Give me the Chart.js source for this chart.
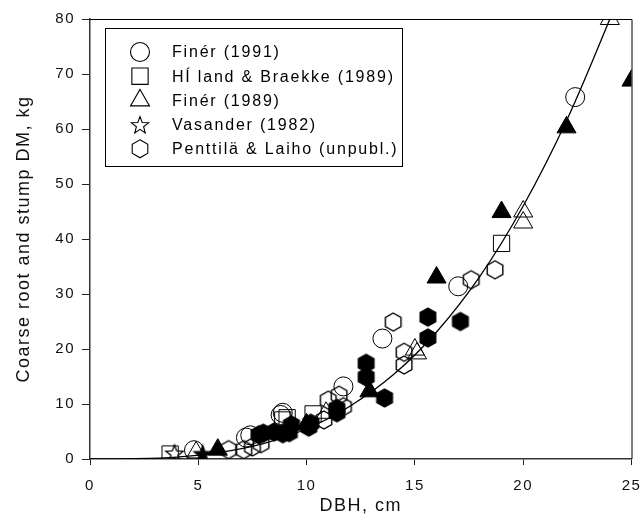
<!DOCTYPE html>
<html>
<head>
<meta charset="utf-8">
<script src="https://cdn.jsdelivr.net/npm/chart.js@4.4.0/dist/chart.umd.min.js"></script>
<style>
  body { margin: 0; background: #fff; }
  canvas { display: block; }
</style>
</head>
<body>
<canvas id="chart" width="644" height="530"></canvas>
<script>
// values (DBH cm, coarse root + stump DM kg)
var xTicks = [0, 5, 10, 15, 20, 25];
var yTicks = [0, 10, 20, 30, 40, 50, 60, 70, 80];

var finer91X = [4.8, 7.2, 7.4, 8.8, 8.9, 11.7, 13.5, 17.0, 22.4];
var finer91Y = [1.6, 3.9, 4.3, 8.0, 8.4, 13.2, 21.9, 31.4, 65.8];

var hlandX = [3.7, 8.9, 9.1, 10.3, 19.0];
var hlandY = [0.9, 7.1, 7.5, 8.2, 39.2];

var finer89X = [4.9, 10.9, 15.0, 15.1, 20.0, 20.0, 24.0];
var finer89Y = [1.2, 8.4, 19.9, 19.2, 45.0, 43.0, 80.0];
var finer89FillX = [5.9, 10.0, 12.9, 16.0, 19.0, 22.0, 25.0];
var finer89FillY = [1.7, 6.3, 12.3, 33.0, 44.9, 60.3, 68.8];

var vasanderX = [3.9];
var vasanderY = [1.1];
var vasanderFillX = [5.2];
var vasanderFillY = [1.0];

var penttilaX = [6.4, 7.1, 7.5, 7.9, 10.8, 11.0, 11.5, 11.7, 14.0, 14.5, 14.5, 17.6, 18.7];
var penttilaY = [1.7, 1.7, 2.2, 2.8, 7.1, 10.7, 11.6, 9.5, 24.9, 19.4, 17.1, 32.6, 34.4];
var penttilaFillX = [7.8, 8.0, 8.5, 8.9, 9.2, 9.3, 10.1, 10.2, 11.4, 11.4, 12.75, 12.75, 13.6, 15.6, 15.6, 17.1];
var penttilaFillY = [4.4, 4.7, 4.9, 4.6, 4.8, 6.2, 5.8, 6.5, 8.4, 9.2, 14.9, 17.4, 11.1, 22.0, 25.8, 25.0];

// fitted curve, read along its path
var curveX = [0, 2, 4, 6, 8, 10, 12, 14, 16, 18, 20, 22, 24, 24.5];
var curveY = [0, 0.05, 0.33, 1.2, 2.8, 5.5, 9.6, 15.3, 23.1, 33.2, 46.0, 61.5, 80.0, 85.0];

function pts(xs, ys) {
    return xs.map(function (x, i) { return { x: x, y: ys[i] }; });
}

// marker outlines as paths (used for the point images and the legend)
function hexPath(g, cx, cy, r) {
    g.beginPath();
    for (var k = 0; k < 6; k++) {
        var a = (-90 + k * 60) * Math.PI / 180;
        var px = cx + r * Math.cos(a), py = cy + r * Math.sin(a);
        if (k === 0) g.moveTo(px, py); else g.lineTo(px, py);
    }
    g.closePath();
}
function starPath(g, cx, cy, r) {
    g.beginPath();
    for (var k = 0; k < 10; k++) {
        var rr = (k % 2 === 0) ? r : r * 0.42;
        var a = (-90 + k * 36) * Math.PI / 180;
        var px = cx + rr * Math.cos(a), py = cy + 1 + rr * Math.sin(a);
        if (k === 0) g.moveTo(px, py); else g.lineTo(px, py);
    }
    g.closePath();
}
function makeImg(pathFn, filled, lw) {
    var c = document.createElement('canvas');
    c.width = 22; c.height = 22;
    var g = c.getContext('2d');
    pathFn(g, 11, 11, 9);
    if (filled) { g.fillStyle = '#000'; g.fill(); }
    g.strokeStyle = '#000'; g.lineWidth = lw; g.stroke();
    return c;
}
var hexOpen = makeImg(hexPath, false, 1.4), hexFill = makeImg(hexPath, true, 1.4);
var starOpen = makeImg(starPath, false, 1.3), starFill = makeImg(starPath, true, 1.3);

var NONE = 'rgba(0,0,0,0)';
var FONT = '"Liberation Sans", Arial, sans-serif';
var SPACING = '1.5px';

function markerSet(label, data, style, radius, filled) {
    return {
        label: label,
        data: data,
        pointStyle: style,
        pointRadius: radius,
        pointHoverRadius: radius,
        pointBorderWidth: 1,
        borderColor: '#000',
        backgroundColor: filled ? '#000' : NONE,
        showLine: false
    };
}

var legendItems = [
    { text: 'Finér (1991)', style: 'circle', r: 9.5 },
    { text: 'HÍ land & Braekke (1989)', style: 'rect', r: 11.5 },
    { text: 'Finér (1989)', style: 'triangle', r: 11 },
    { text: 'Vasander (1982)', style: 'star', r: 9 },
    { text: 'Penttilä & Laiho (unpubl.)', style: 'hex', r: 9 }
];

var spacingPlugin = {
    id: 'spacing',
    beforeUpdate: function (chart) { chart.ctx.letterSpacing = SPACING; },
    beforeDraw: function (chart) { chart.ctx.letterSpacing = SPACING; }
};

var framePlugin = {
    id: 'frame',
    afterDraw: function (chart) {
        var ctx = chart.ctx, a = chart.chartArea;
        ctx.save();
        ctx.strokeStyle = '#000';
        ctx.lineWidth = 1;
        ctx.beginPath();
        ctx.moveTo(a.left, a.top + 0.5);
        ctx.lineTo(a.right + 0.5, a.top + 0.5);
        ctx.lineTo(a.right + 0.5, a.bottom);
        ctx.stroke();

        // legend box
        var bx = 105.5, by = 28.5, bw = 297, bh = 138;
        ctx.fillStyle = '#fff';
        ctx.fillRect(bx, by, bw, bh);
        ctx.strokeRect(bx, by, bw, bh);
        ctx.letterSpacing = '1.8px';
        ctx.font = '16px ' + FONT;
        ctx.textBaseline = 'middle';
        ctx.textAlign = 'left';
        legendItems.forEach(function (it, i) {
            var y = 52 + i * 24.2;
            ctx.strokeStyle = '#000';
            ctx.fillStyle = '#fff';
            ctx.lineWidth = 1.1;
            if (it.style === 'star') {
                starPath(ctx, 140, y, it.r);
            } else if (it.style === 'hex') {
                hexPath(ctx, 140, y, it.r);
            } else if (it.style === 'circle') {
                ctx.beginPath();
                ctx.arc(140, y, it.r, 0, Math.PI * 2);
            } else if (it.style === 'rect') {
                var h = it.r * Math.SQRT1_2;
                ctx.beginPath();
                ctx.rect(140 - h, y - h, 2 * h, 2 * h);
            } else {
                ctx.beginPath();
                for (var k = 0; k < 3; k++) {
                    var ang = k * 2 * Math.PI / 3;
                    var px = 140 + Math.sin(ang) * it.r, py = y - Math.cos(ang) * it.r;
                    if (k === 0) ctx.moveTo(px, py); else ctx.lineTo(px, py);
                }
                ctx.closePath();
            }
            ctx.fill();
            ctx.stroke();
            ctx.fillStyle = '#000';
            ctx.fillText(it.text, 172, y + 1);
        });
        ctx.restore();
    }
};

var theChart = new Chart(document.getElementById('chart'), {
    type: 'scatter',
    data: {
        datasets: [
            {
                label: 'fit',
                data: pts(curveX, curveY),
                showLine: true,
                borderColor: '#000',
                borderWidth: 1.3,
                pointRadius: 0,
                cubicInterpolationMode: 'monotone',
                fill: false
            },
            markerSet('Penttilä filled', pts(penttilaFillX, penttilaFillY), hexFill, 9, true),
            markerSet('Finér 1989 filled', pts(finer89FillX, finer89FillY), 'triangle', 11, true),
            markerSet('Vasander filled', pts(vasanderFillX, vasanderFillY), starFill, 9, true),
            markerSet('Finér (1991)', pts(finer91X, finer91Y), 'circle', 9.5, false),
            markerSet('HÍ land & Braekke (1989)', pts(hlandX, hlandY), 'rect', 11.5, false),
            markerSet('Finér (1989)', pts(finer89X, finer89Y), 'triangle', 11, false),
            markerSet('Vasander (1982)', pts(vasanderX, vasanderY), starOpen, 9, false),
            markerSet('Penttilä & Laiho (unpubl.)', pts(penttilaX, penttilaY), hexOpen, 9, false)
        ]
    },
    options: {
        responsive: false,
        animation: false,
        devicePixelRatio: 1,
        layout: { padding: { top: 19, right: 11, left: 0, bottom: 0 } },
        plugins: {
            legend: { display: false },
            tooltip: { enabled: false }
        },
        scales: {
            x: {
                type: 'linear',
                min: 0, max: 25,
                afterBuildTicks: function (s) { s.ticks = xTicks.map(function (v) { return { value: v }; }); },
                afterFit: function (s) { s.height = 71; s.paddingLeft = 0; s.paddingRight = 0; },
                grid: { drawOnChartArea: false, drawTicks: true, tickLength: 6, color: '#222' },
                border: { color: '#333', width: 1.5 },
                ticks: { color: '#111', padding: 12, font: { family: FONT, size: 15 } },
                title: { display: true, text: 'DBH, cm', color: '#111', padding: { top: 0, bottom: 13 }, font: { family: FONT, size: 18 } }
            },
            y: {
                type: 'linear',
                min: 0, max: 80,
                afterBuildTicks: function (s) { s.ticks = yTicks.map(function (v) { return { value: v }; }); },
                afterFit: function (s) { s.width = 90; s.paddingTop = 0; s.paddingBottom = 0; },
                grid: { drawOnChartArea: false, drawTicks: true, tickLength: 8, color: '#222' },
                border: { color: '#333', width: 1.5 },
                ticks: { color: '#111', padding: 7, font: { family: FONT, size: 15 } },
                title: { display: true, text: 'Coarse root and stump DM, kg', color: '#111', padding: { top: 13, bottom: 0 }, font: { family: FONT, size: 18 } }
            }
        }
    },
    plugins: [spacingPlugin, framePlugin]
});
</script>
</body>
</html>
